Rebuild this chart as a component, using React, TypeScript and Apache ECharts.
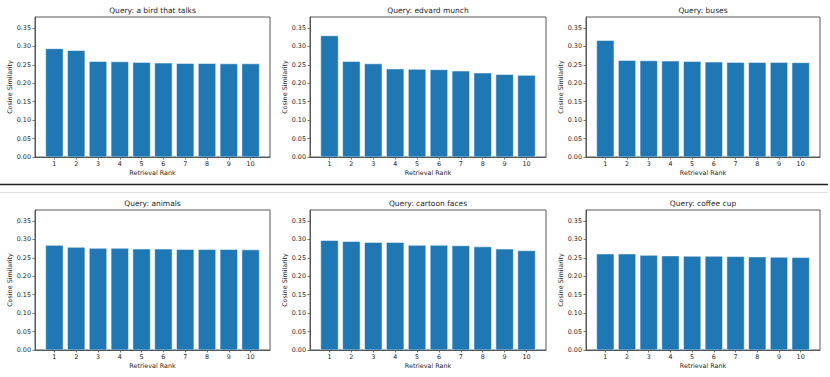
import React, { useEffect, useRef } from "react";
import * as echarts from "echarts";

const ranks = [1, 2, 3, 4, 5, 6, 7, 8, 9, 10];
const yTicks = [0, 0.05, 0.1, 0.15, 0.2, 0.25, 0.3, 0.35];

const titles = [
  "Query: a bird that talks",
  "Query: edvard munch",
  "Query: buses",
  "Query: animals",
  "Query: cartoon faces",
  "Query: coffee cup",
];

const birdThatTalks = [0.294, 0.289, 0.2595, 0.2586, 0.2568, 0.255, 0.254, 0.254, 0.253, 0.253];
const edvardMunch = [0.329, 0.2595, 0.253, 0.239, 0.238, 0.237, 0.2333, 0.228, 0.224, 0.2216];
const buses = [0.3165, 0.2622, 0.2613, 0.2604, 0.2595, 0.2577, 0.2568, 0.2568, 0.2568, 0.256];
const animals = [0.284, 0.2786, 0.2759, 0.2759, 0.274, 0.274, 0.273, 0.273, 0.273, 0.272];
const cartoonFaces = [0.2973, 0.2946, 0.292, 0.292, 0.284, 0.284, 0.283, 0.28, 0.274, 0.2696];
const coffeeCup = [0.2607, 0.2607, 0.257, 0.2554, 0.2545, 0.2545, 0.2536, 0.2527, 0.2518, 0.2509];

const seriesValues = [birdThatTalks, edvardMunch, buses, animals, cartoonFaces, coffeeCup];

const FONT = "DejaVu Sans";
const TEXT = "#262626";
const SPINE = "#585858";
const BAR = "#1f77b4";

const cols = [
  { left: 35, width: 235 },
  { left: 310, width: 236 },
  { left: 586, width: 234 },
];
const rows = [{ top: 17 }, { top: 210 }];
const plotH = 140;

export default function App() {
  const ref = useRef<HTMLDivElement>(null);

  useEffect(() => {
    if (!ref.current) return;
    const chart = echarts.init(ref.current, null, { renderer: "svg" });

    const grids: any[] = [];
    const xAxes: any[] = [];
    const yAxes: any[] = [];
    const series: any[] = [];
    const titleOpts: any[] = [];

    for (let i = 0; i < 6; i++) {
      const c = cols[i % 3];
      const r = rows[Math.floor(i / 3)];
      grids.push({
        left: c.left,
        top: r.top,
        width: c.width,
        height: plotH,
        show: true,
        borderColor: SPINE,
        borderWidth: 1,
        backgroundColor: "transparent",
        containLabel: false,
      });
      titleOpts.push({
        text: titles[i],
        left: c.left + c.width / 2,
        top: r.top - 10.5,
        textAlign: "center",
        padding: 0,
        textStyle: { fontSize: 7.5, fontWeight: "normal", fontFamily: FONT, color: TEXT },
      });
      xAxes.push({
        type: "value",
        gridIndex: i,
        min: 0.11,
        max: 10.89,
        z: 5,
        name: "Retrieval Rank",
        nameLocation: "middle",
        nameGap: 13,
        nameTextStyle: { fontSize: 6.4, fontFamily: FONT, color: TEXT },
        axisLine: { show: true, lineStyle: { color: SPINE, width: 1 } },
        axisTick: { show: true, length: 2.5, lineStyle: { color: SPINE, width: 0.8 }, customValues: ranks },
        axisLabel: {
          fontSize: 6.4,
          fontFamily: FONT,
          color: TEXT,
          margin: 3.5,
          customValues: ranks,
          formatter: (v: number) => String(v),
        },
        splitLine: { show: false },
      });
      yAxes.push({
        type: "value",
        gridIndex: i,
        min: 0,
        max: 0.38,
        z: 5,
        name: "Cosine Similarity",
        nameLocation: "middle",
        nameGap: 21,
        nameTextStyle: { fontSize: 6.4, fontFamily: FONT, color: TEXT },
        axisLine: { show: true, lineStyle: { color: SPINE, width: 1 } },
        axisTick: { show: true, length: 2.5, lineStyle: { color: SPINE, width: 0.8 }, customValues: yTicks },
        axisLabel: {
          fontSize: 6.4,
          fontFamily: FONT,
          color: TEXT,
          margin: 4,
          customValues: yTicks,
          formatter: (v: number) => v.toFixed(2),
        },
        splitLine: { show: false },
      });
      series.push({
        type: "custom",
        xAxisIndex: i,
        yAxisIndex: i,
        data: ranks.map((r, k) => [r, seriesValues[i][k]]),
        renderItem: (params: any, api: any) => {
          const x = api.value(0);
          const y = api.value(1);
          const p0 = api.coord([x - 0.4, y]);
          const p1 = api.coord([x + 0.4, 0]);
          return {
            type: "rect",
            shape: { x: p0[0], y: p0[1], width: p1[0] - p0[0], height: p1[1] - p0[1] },
            style: { fill: BAR, stroke: "rgba(255,255,255,0.65)", lineWidth: 0.8 },
          };
        },
      });
    }

    chart.setOption({
      animation: false,
      backgroundColor: "#ffffff",
      title: titleOpts,
      grid: grids,
      xAxis: xAxes,
      yAxis: yAxes,
      series,
      graphic: [
        {
          type: "line",
          shape: { x1: 0, y1: 184.5, x2: 828, y2: 184.5 },
          style: { stroke: "#222", lineWidth: 1.3 },
        },
        {
          type: "line",
          shape: { x1: 0, y1: 192.5, x2: 828, y2: 192.5 },
          style: { stroke: "#e2e2e2", lineWidth: 1 },
        },
      ],
    });

    return () => {
      chart.dispose();
    };
  }, []);

  return (
    <div
      ref={ref}
      style={{ position: "absolute", left: 0, top: 0, width: 830, height: 377 }}
    />
  );
}
